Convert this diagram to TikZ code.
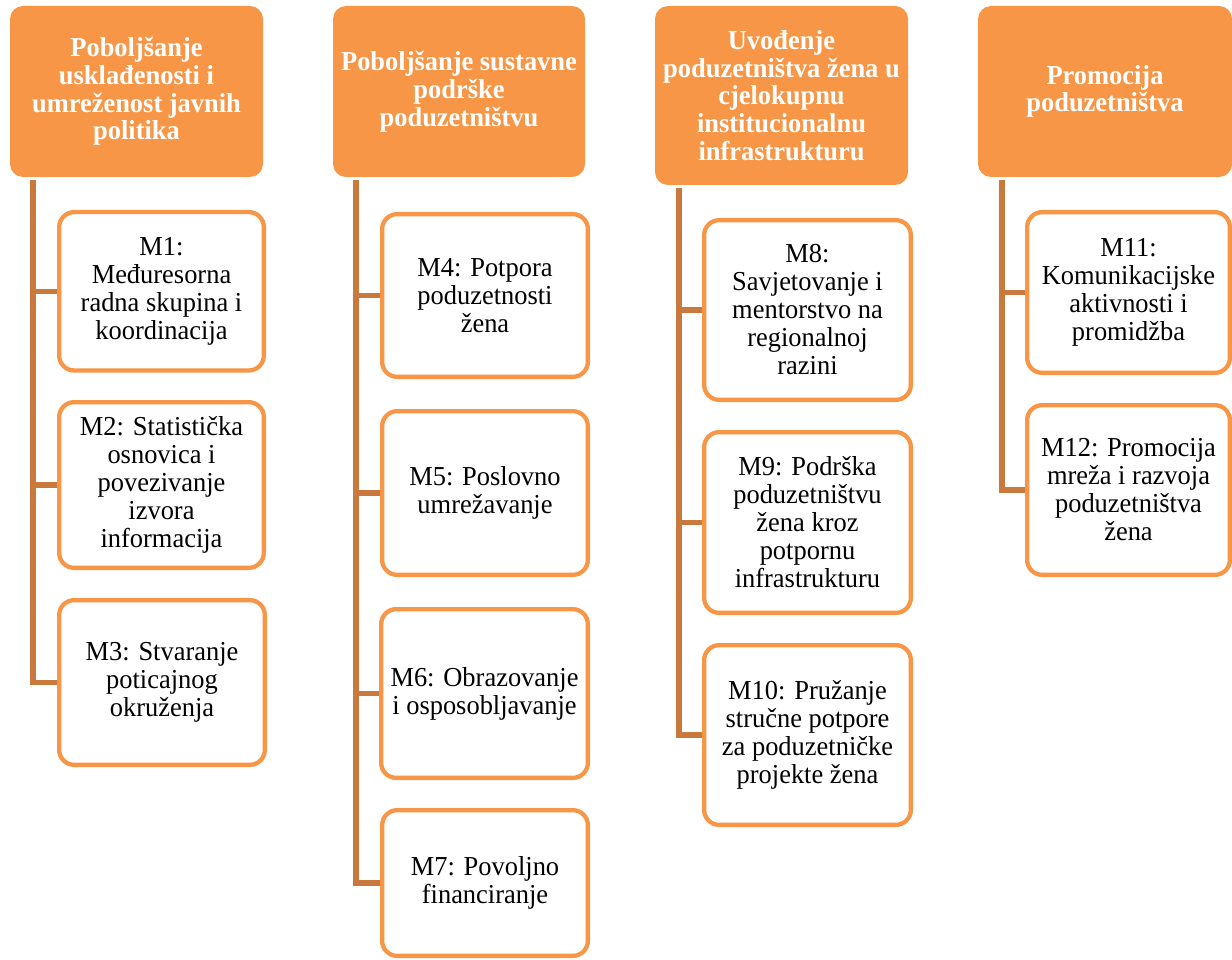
\documentclass[tikz,border=0pt]{standalone}
\usepackage{fontspec}
\setmainfont{Liberation Serif}[FakeStretch=0.965]
\usetikzlibrary{backgrounds,calc}
\definecolor{hdrfill}{HTML}{F79646}
\definecolor{boxline}{HTML}{F79646}
\definecolor{connline}{HTML}{C8793B}
\tikzset{
  hdr/.style={fill=hdrfill, draw=none, rounded corners=13pt, align=center,
    text=white, inner sep=0pt, font=\fontsize{27.4}{27.8}\selectfont\bfseries},
  child/.style={fill=white, draw=boxline, line width=4.3pt, rounded corners=15pt,
    align=center, text=black, inner sep=0pt, font=\fontsize{27.4}{28}\selectfont},
  conn/.style={draw=connline, line width=5.5pt, line join=miter}
}
\begin{document}
\begin{tikzpicture}[x=1pt,y=-1pt]
\useasboundingbox (0,0) rectangle (1232,960);
% headers
\node[hdr, minimum width=253pt, minimum height=171pt] (h1) at (136.5,91.5)
  {Poboljšanje\\uskla\dj enosti i\\umreženost javnih\\politika};
\node[hdr, minimum width=252pt, minimum height=171pt] (h2) at (459,91.5)
  {Poboljšanje sustavne\\podrške\\poduzetništvu};
\node[hdr, minimum width=253pt, minimum height=179pt] (h3) at (781.5,95.5)
  {Uvo\dj enje\\poduzetništva žena u\\cjelokupnu\\institucionalnu\\infrastrukturu};
\node[hdr, minimum width=254pt, minimum height=171pt] (h4) at (1105,91.5)
  {Promocija\\poduzetništva};
% column 1
\node[child, minimum width=204.7pt, minimum height=158.4pt] (m1) at (161.5,291.3)
  {M1:\\Me\dj uresorna\\radna skupina i\\koordinacija};
\node[child, minimum width=204.7pt, minimum height=165.7pt] (m2) at (161.5,485)
  {M2: Statistička\\osnovica i\\povezivanje\\izvora\\informacija};
\node[child, minimum width=205.7pt, minimum height=164.7pt] (m3) at (162,682.5)
  {M3: Stvaranje\\poticajnog\\okruženja};
% column 2
\node[child, minimum width=205.7pt, minimum height=162.7pt] (m4) at (485,295.5)
  {M4: Potpora\\poduzetnosti\\žena};
\node[child, minimum width=205.7pt, minimum height=163.7pt] (m5) at (485,493)
  {M5: Poslovno\\umrežavanje};
\node[child, minimum width=206.7pt, minimum height=168.7pt] (m6) at (484.5,693.5)
  {M6: Obrazovanje\\i osposobljavanje};
\node[child, minimum width=205.7pt, minimum height=145.7pt] (m7) at (485,883)
  {M7: Povoljno\\financiranje};
% column 3
\node[child, minimum width=206.7pt, minimum height=179.7pt] (m8) at (807.5,310)
  {M8:\\Savjetovanje i\\mentorstvo na\\regionalnoj\\razini};
\node[child, minimum width=206.7pt, minimum height=180.7pt] (m9) at (807.5,522.5)
  {M9: Podrška\\poduzetništvu\\žena kroz\\potpornu\\infrastrukturu};
\node[child, minimum width=206.7pt, minimum height=179.7pt] (m10) at (807.5,735)
  {M10: Pružanje\\stručne potpore\\za poduzetničke\\projekte žena};
% column 4
\node[child, minimum width=202.7pt, minimum height=160.7pt] (m11) at (1128.5,292.5)
  {M11:\\Komunikacijske\\aktivnosti i\\promidžba};
\node[child, minimum width=202.7pt, minimum height=169.7pt] (m12) at (1128.5,490)
  {M12: Promocija\\mreža i razvoja\\poduzetništva\\žena};
% connectors
\coordinate (t1) at ($(h1.south west)+(23,3)$);
\coordinate (t2) at ($(h2.south west)+(23,3)$);
\coordinate (t3) at ($(h3.south west)+(24,3)$);
\coordinate (t4) at ($(h4.south west)+(24,3)$);
\begin{scope}[on background layer]
\draw[conn] (t1) |- (m3.west);
\draw[conn] (t1 |- m1.west) -- (m1.west);
\draw[conn] (t1 |- m2.west) -- (m2.west);
\draw[conn] (t2) |- (m7.west);
\draw[conn] (t2 |- m4.west) -- (m4.west);
\draw[conn] (t2 |- m5.west) -- (m5.west);
\draw[conn] (t2 |- m6.west) -- (m6.west);
\draw[conn] (t3) |- (m10.west);
\draw[conn] (t3 |- m8.west) -- (m8.west);
\draw[conn] (t3 |- m9.west) -- (m9.west);
\draw[conn] (t4) |- (m12.west);
\draw[conn] (t4 |- m11.west) -- (m11.west);
\end{scope}
\end{tikzpicture}
\end{document}
